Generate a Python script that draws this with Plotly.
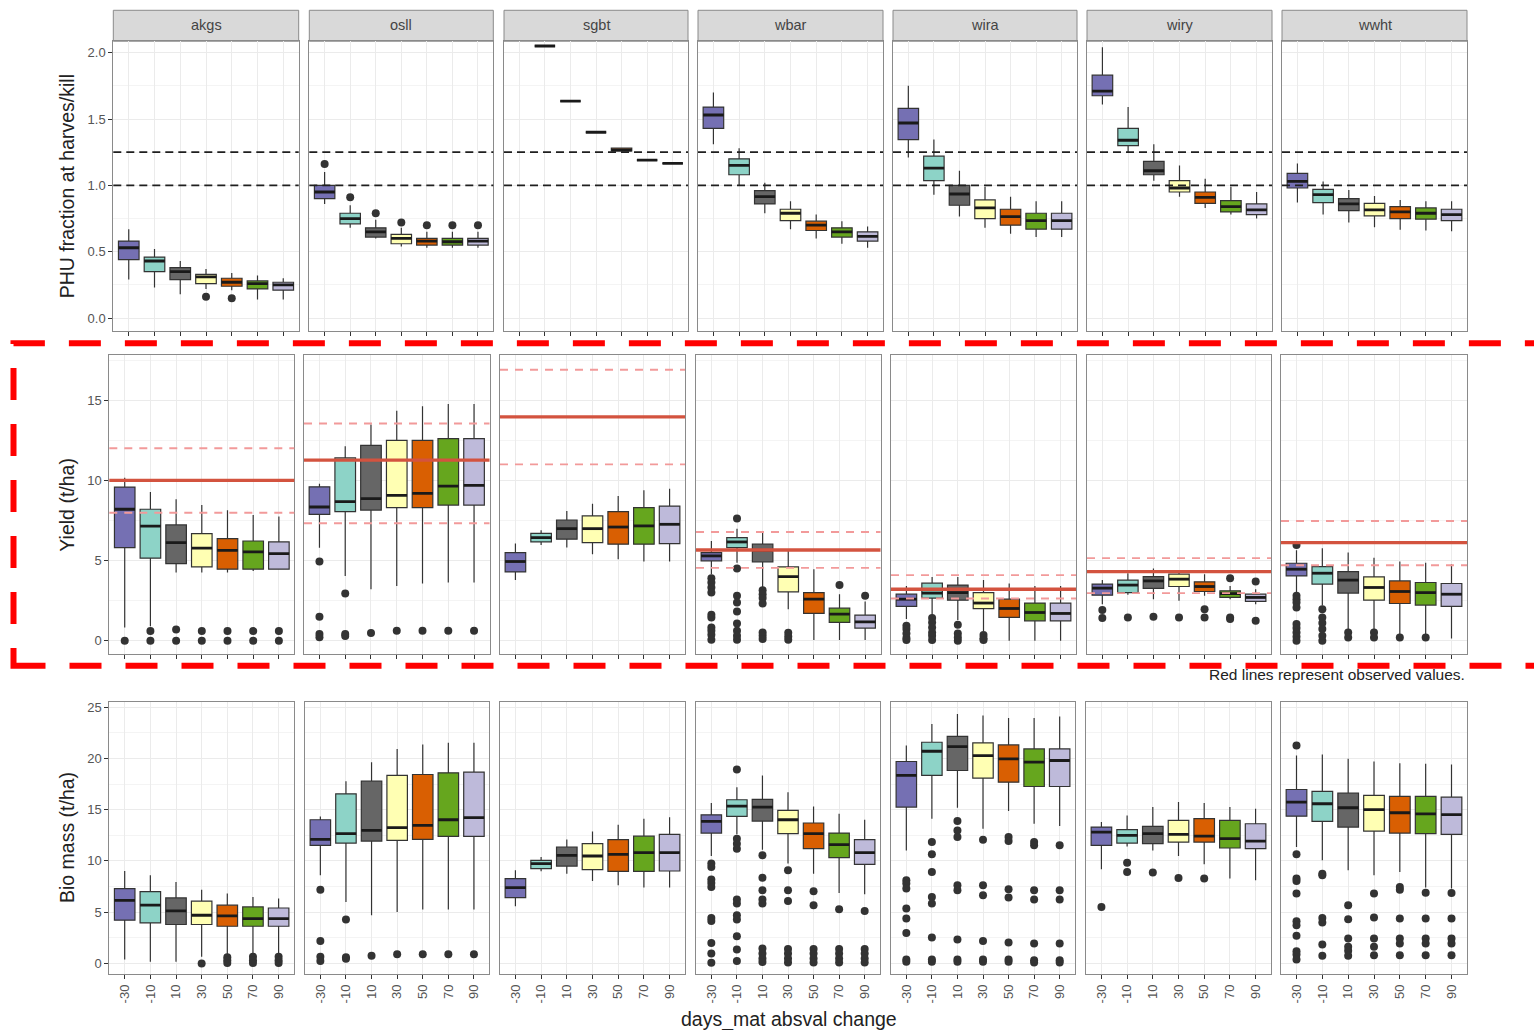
import plotly.graph_objects as go

W, H = 1534, 1030

crops = ["akgs", "osll", "sgbt", "wbar", "wira", "wiry", "wwht"]
changes = ["-30", "-10", "10", "30", "50", "70", "90"]
change_colors = ["#7570B3", "#8DD3C7", "#666666", "#FFFFB3", "#D95F02", "#66A61E", "#BEBADA"]

# Box statistics per change level: [lower whisker, q1, median, q3, upper whisker]
# ---- PHU fraction at harvest/kill ----
phu_akgs = [[0.29, 0.44, 0.53, 0.58, 0.67], [0.23, 0.35, 0.43, 0.46, 0.52], [0.18, 0.29, 0.35, 0.38, 0.43],
            [0.22, 0.26, 0.31, 0.33, 0.37], [0.21, 0.24, 0.27, 0.30, 0.34], [0.14, 0.22, 0.26, 0.28, 0.32],
            [0.14, 0.21, 0.25, 0.27, 0.30]]
phu_akgs_out = [[], [], [], [0.16], [0.15], [], []]
phu_osll = [[0.86, 0.90, 0.95, 1.00, 1.10], [0.68, 0.71, 0.75, 0.79, 0.85], [0.60, 0.61, 0.65, 0.68, 0.74],
            [0.54, 0.56, 0.60, 0.63, 0.68], [0.53, 0.55, 0.58, 0.60, 0.65], [0.53, 0.55, 0.575, 0.60, 0.65],
            [0.53, 0.55, 0.58, 0.60, 0.65]]
phu_osll_out = [[1.16], [0.91], [0.79], [0.72], [0.70], [0.70], [0.70]]
phu_sgbt = [None, [2.05, 2.05, 2.05, 2.05, 2.05], [1.635, 1.635, 1.635, 1.635, 1.635],
            [1.40, 1.40, 1.40, 1.40, 1.40], [1.26, 1.26, 1.265, 1.28, 1.28], [1.19, 1.19, 1.19, 1.19, 1.19],
            [1.165, 1.165, 1.165, 1.165, 1.165]]
phu_sgbt_out = [[], [], [], [], [], [], []]
phu_wbar = [[1.31, 1.43, 1.53, 1.59, 1.70], [1.00, 1.08, 1.15, 1.20, 1.28], [0.79, 0.86, 0.915, 0.96, 1.02],
            [0.67, 0.735, 0.79, 0.82, 0.88], [0.60, 0.66, 0.70, 0.73, 0.78], [0.56, 0.61, 0.65, 0.68, 0.73],
            [0.53, 0.58, 0.615, 0.65, 0.69]]
phu_wbar_out = [[], [], [], [], [], [], []]
phu_wira = [[1.21, 1.345, 1.47, 1.58, 1.75], [0.93, 1.035, 1.13, 1.22, 1.345], [0.765, 0.85, 0.935, 1.0, 1.11],
            [0.68, 0.75, 0.83, 0.89, 0.99], [0.635, 0.70, 0.765, 0.82, 0.915], [0.61, 0.67, 0.735, 0.79, 0.88],
            [0.61, 0.67, 0.735, 0.79, 0.88]]
phu_wira_out = [[], [], [], [], [], [], []]
phu_wiry = [[1.61, 1.675, 1.71, 1.83, 2.04], [1.25, 1.30, 1.34, 1.43, 1.59], [1.035, 1.08, 1.11, 1.18, 1.31],
            [0.915, 0.95, 0.98, 1.035, 1.15], [0.83, 0.865, 0.91, 0.95, 1.05], [0.78, 0.80, 0.84, 0.885, 0.99],
            [0.75, 0.78, 0.815, 0.86, 0.95]]
phu_wiry_out = [[], [], [], [], [], [], []]
phu_wwht = [[0.87, 0.98, 1.03, 1.09, 1.165], [0.78, 0.87, 0.93, 0.97, 1.03], [0.72, 0.81, 0.86, 0.90, 0.965],
            [0.685, 0.77, 0.815, 0.865, 0.92], [0.665, 0.75, 0.80, 0.84, 0.89], [0.66, 0.745, 0.79, 0.83, 0.88],
            [0.655, 0.735, 0.78, 0.82, 0.88]]
phu_wwht_out = [[], [], [], [], [], [], []]

# ---- Yield (t/ha) ----
yld_akgs = [[0.83, 5.81, 8.2, 9.58, 10.16], [0.9, 5.15, 7.15, 8.2, 9.27], [4.25, 4.81, 6.12, 7.22, 8.82],
            [4.25, 4.6, 5.77, 6.68, 8.46], [4.25, 4.46, 5.64, 6.37, 8.13], [4.35, 4.46, 5.54, 6.22, 7.84],
            [4.46, 4.46, 5.43, 6.16, 7.74]]
yld_akgs_out = [[0.0], [0.6, 0.0], [0.7, 0.0], [0.6, 0.0], [0.6, 0.0], [0.6, 0.0], [0.6, 0.0]]
yld_osll = [[5.8, 7.88, 8.34, 9.6, 9.79], [4.04, 8.05, 8.67, 11.4, 12.13], [3.21, 8.15, 8.86, 12.18, 13.48],
            [3.42, 8.3, 9.07, 12.5, 14.35], [3.57, 8.3, 9.19, 12.5, 14.62], [3.63, 8.46, 9.64, 12.6, 14.77],
            [3.63, 8.46, 9.69, 12.6, 14.77]]
yld_osll_out = [[4.94, 1.5, 0.42, 0.21], [2.95, 0.42, 0.3], [0.48], [0.62], [0.62], [0.62], [0.62]]
yld_sgbt = [[3.78, 4.29, 4.94, 5.5, 6.06], [5.97, 6.16, 6.43, 6.7, 6.89], [5.81, 6.33, 6.99, 7.53, 8.09],
            [5.39, 6.12, 6.99, 7.78, 8.54], [5.08, 6.02, 7.09, 8.05, 9.02], [4.94, 6.02, 7.16, 8.3, 9.38],
            [4.94, 6.06, 7.26, 8.4, 9.48]]
yld_sgbt_out = [[], [], [], [], [], [], []]
yld_wbar = [[4.15, 4.98, 5.29, 5.5, 6.22], [4.87, 5.8, 6.16, 6.43, 6.99], [3.35, 4.92, 5.64, 6.02, 6.78],
            [1.97, 3.05, 4.0, 4.6, 5.7], [0.04, 1.7, 2.59, 3.0, 4.46], [0.04, 1.14, 1.66, 2.03, 2.9],
            [0.04, 0.79, 1.18, 1.6, 2.45]]
yld_wbar_out = [[3.9, 3.63, 3.32, 3.0, 1.62, 1.45, 0.83, 0.62, 0.37, 0.06],
                [7.63, 4.5, 2.8, 2.38, 1.83, 1.08, 0.62, 0.31, 0.06],
                [3.15, 2.9, 2.66, 2.32, 0.52, 0.31, 0.1], [0.5, 0.27, 0.06], [], [3.47], [2.8]]
yld_wira = [[1.35, 2.14, 2.59, 2.9, 3.42], [1.6, 2.66, 2.97, 3.59, 3.98], [1.3, 2.53, 3.0, 3.47, 3.98],
            [0.6, 2.0, 2.35, 3.0, 3.78], [0.0, 1.45, 2.01, 2.59, 3.57], [0.0, 1.24, 1.76, 2.35, 3.42],
            [0.0, 1.24, 1.7, 2.35, 3.42]]
yld_wira_out = [[0.93, 0.73, 0.45, 0.17, 0.04], [1.41, 1.14, 0.83, 0.52, 0.31, 0.04], [1.0, 0.45, 0.2, 0.0],
                [0.35, 0.15, 0.05], [], [], []]
yld_wiry = [[2.28, 2.84, 3.28, 3.53, 3.78], [2.86, 3.0, 3.47, 3.78, 4.21], [2.59, 3.26, 3.73, 4.0, 4.5],
            [2.49, 3.38, 3.84, 4.15, 4.4], [2.8, 3.07, 3.38, 3.67, 4.15], [2.59, 2.7, 2.94, 3.11, 3.42],
            [2.28, 2.45, 2.7, 2.9, 3.21]]
yld_wiry_out = [[1.91, 1.41], [1.45], [1.49], [1.45], [1.97, 1.45], [3.9, 1.45, 1.35], [3.69, 1.24]]
yld_wwht = [[3.0, 4.04, 4.46, 4.83, 5.64], [2.2, 3.53, 4.21, 4.62, 5.77], [0.73, 2.97, 3.78, 4.31, 5.5],
            [0.73, 2.53, 3.32, 3.98, 5.18], [0.35, 2.32, 3.07, 3.73, 4.94], [0.35, 2.22, 3.0, 3.63, 4.87],
            [0.14, 2.14, 2.9, 3.57, 4.77]]
yld_wwht_out = [[5.97, 2.8, 2.59, 2.38, 2.07, 1.04, 0.79, 0.52, 0.25, 0.0], [1.97, 1.45, 1.1, 0.73, 0.31, 0.0],
                [0.52, 0.2], [0.52, 0.2], [0.2], [0.2], []]

# Observed yield per crop (t/ha): central value and band
obs_yield = [10.0, 11.26, 13.96, 5.66, 3.21, 4.31, 6.12]
obs_yield_hi = [12.0, 13.55, 16.9, 6.78, 4.09, 5.15, 7.47]
obs_yield_lo = [7.98, 7.33, 11.0, 4.54, 2.63, 2.97, 4.71]

# ---- Bio mass (t/ha) ----
bio_akgs = [[0.39, 4.22, 6.16, 7.3, 9.02], [0.16, 3.95, 5.68, 7.01, 8.6], [0.16, 3.8, 5.12, 6.39, 7.95],
            [0.65, 3.8, 4.7, 6.07, 7.2], [0.8, 3.63, 4.64, 5.68, 6.82], [0.8, 3.63, 4.38, 5.51, 6.49],
            [0.8, 3.63, 4.38, 5.41, 6.33]]
bio_akgs_out = [[], [], [], [0.0], [0.6, 0.3, 0.05], [0.65, 0.3, 0.05], [0.65, 0.3, 0.05]]
bio_osll = [[8.6, 11.52, 12.1, 14.02, 14.34], [6.0, 11.74, 12.66, 16.55, 17.78], [4.7, 11.94, 12.98, 17.78, 19.63],
            [5.02, 12.0, 13.24, 18.34, 20.93], [5.26, 12.1, 13.46, 18.43, 21.35], [5.26, 12.4, 14.02, 18.6, 21.52],
            [5.26, 12.4, 14.22, 18.66, 21.52]]
bio_osll_out = [[7.2, 2.2, 0.65, 0.25], [4.28, 0.6, 0.45], [0.74], [0.9], [0.9], [0.9], [0.9]]
bio_sgbt = [[5.58, 6.43, 7.4, 8.28, 9.08], [8.99, 9.25, 9.74, 10.06, 10.38], [8.76, 9.5, 10.55, 11.36, 12.1],
            [8.04, 9.15, 10.48, 11.68, 12.88], [7.62, 8.99, 10.64, 12.07, 13.53], [7.4, 8.99, 10.81, 12.42, 14.12],
            [7.4, 9.02, 10.81, 12.59, 14.27]]
bio_sgbt_out = [[], [], [], [], [], [], []]
bio_wbar = [[10.48, 12.72, 13.86, 14.5, 15.64], [12.6, 14.34, 15.35, 15.97, 17.2], [11.1, 13.89, 15.25, 16.0, 18.34],
            [9.74, 12.66, 14.02, 14.93, 16.71], [8.76, 11.2, 12.66, 13.7, 15.32], [6.88, 10.32, 11.59, 12.72, 14.6],
            [6.75, 9.67, 10.81, 12.07, 14.02]]
bio_wbar_out = [[9.74, 9.4, 8.18, 7.85, 7.46, 4.44, 4.15, 2.0, 0.97, 0.06],
                [18.92, 12.17, 11.68, 11.2, 6.23, 5.84, 4.7, 4.28, 2.66, 1.36, 0.25],
                [10.55, 8.37, 7.14, 6.23, 5.84, 1.46, 0.97, 0.49, 0.15],
                [9.08, 7.14, 6.1, 1.4, 0.97, 0.49, 0.1], [7.04, 5.68, 1.4, 0.97, 0.49, 0.1],
                [5.29, 1.4, 0.97, 0.49, 0.1], [5.12, 1.4, 0.97, 0.49, 0.1]]
bio_wira = [[11.03, 15.25, 18.34, 19.7, 21.26], [14.12, 18.34, 20.7, 21.58, 23.37], [15.19, 18.82, 21.16, 22.16, 24.34],
            [13.15, 18.07, 20.28, 21.52, 24.18], [14.86, 17.68, 19.96, 21.32, 23.95], [13.63, 17.26, 19.63, 20.93, 23.95],
            [13.4, 17.26, 19.8, 20.93, 24.08]]
bio_wira_out = [[8.11, 7.79, 7.3, 5.35, 4.38, 2.98, 0.39, 0.16], [11.84, 10.64, 8.92, 6.49, 5.84, 2.53, 0.39, 0.16],
                [13.89, 12.98, 12.33, 7.62, 7.14, 2.34, 0.39, 0.16], [12.07, 7.62, 6.65, 2.2, 0.39, 0.16],
                [12.33, 11.94, 7.23, 6.43, 2.04, 0.39, 0.16], [11.84, 11.52, 7.14, 6.23, 1.95, 0.3, 0.1],
                [11.52, 7.14, 6.23, 1.95, 0.3, 0.1]]
bio_wiry = [[9.18, 11.52, 12.82, 13.3, 13.79], [11.42, 11.74, 12.49, 13.05, 14.44], [11.03, 11.68, 12.66, 13.37, 15.25],
            [10.48, 11.84, 12.59, 13.95, 15.74], [9.67, 11.84, 12.43, 14.12, 15.64], [8.28, 11.26, 12.17, 13.95, 15.25],
            [8.11, 11.2, 11.94, 13.63, 15.09]]
bio_wiry_out = [[5.51], [9.83, 8.92], [8.86], [8.34], [8.28], [], []]
bio_wwht = [[11.36, 14.37, 15.74, 16.97, 20.28], [10.06, 13.86, 15.58, 16.78, 20.38], [9.08, 13.3, 15.19, 16.61, 19.96],
            [8.6, 12.91, 15.0, 16.39, 19.7], [8.92, 12.72, 14.7, 16.29, 19.54], [7.4, 12.66, 14.6, 16.29, 19.47],
            [7.3, 12.59, 14.51, 16.22, 19.41]]
bio_wwht_out = [[21.26, 10.64, 8.28, 8.04, 6.82, 4.12, 3.73, 2.69, 1.2, 0.88, 0.39],
                [8.76, 8.6, 4.44, 3.99, 1.85, 0.74], [5.68, 4.31, 2.43, 1.62, 1.23, 0.74],
                [6.82, 4.48, 2.43, 1.62, 0.8], [7.46, 7.2, 4.38, 2.43, 1.95, 0.8],
                [6.9, 4.38, 2.43, 1.95, 0.8], [6.88, 4.38, 2.43, 1.95, 0.8]]

phu_ticks = [0.0, 0.5, 1.0, 1.5, 2.0]
yield_ticks = [0, 5, 10, 15]
bio_ticks = [0, 5, 10, 15, 20, 25]
phu_ref_lines = [1.0, 1.25]

# Panel geometry in pixels: (left, right) per facet column, (top, bottom) per row
col_px = [
    [(113.3, 298.7), (309.3, 493.3), (504, 688), (698, 883), (893, 1077), (1087, 1272), (1282, 1467)],
    [(109.3, 294.3), (304, 489.5), (500, 685), (696, 880.5), (891, 1076), (1087, 1271), (1281, 1467)],
    [(109.3, 294), (305, 489.3), (500, 685), (696, 880), (891, 1075), (1086, 1271), (1281, 1467)],
]
row_px = [(39.3, 330), (354, 653.3), (701, 974.3)]

rows = [
    dict(stats=[phu_akgs, phu_osll, phu_sgbt, phu_wbar, phu_wira, phu_wiry, phu_wwht],
         outs=[phu_akgs_out, phu_osll_out, phu_sgbt_out, phu_wbar_out, phu_wira_out, phu_wiry_out, phu_wwht_out],
         yrange=[-0.1, 2.086], ticks=phu_ticks, ticktext=["%.1f" % t for t in phu_ticks],
         minor=[0.25, 0.75, 1.25, 1.75], title="PHU fraction at harves/kill"),
    dict(stats=[yld_akgs, yld_osll, yld_sgbt, yld_wbar, yld_wira, yld_wiry, yld_wwht],
         outs=[yld_akgs_out, yld_osll_out, yld_sgbt_out, yld_wbar_out, yld_wira_out, yld_wiry_out, yld_wwht_out],
         yrange=[-0.83, 17.8], ticks=yield_ticks, ticktext=[str(t) for t in yield_ticks],
         minor=[2.5, 7.5, 12.5, 17.5], title="Yield (t/ha)"),
    dict(stats=[bio_akgs, bio_osll, bio_sgbt, bio_wbar, bio_wira, bio_wiry, bio_wwht],
         outs=[bio_akgs_out, bio_osll_out, bio_sgbt_out, bio_wbar_out, bio_wira_out, bio_wiry_out, bio_wwht_out],
         yrange=[-1.07, 25.54], ticks=bio_ticks, ticktext=[str(t) for t in bio_ticks],
         minor=[2.5, 7.5, 12.5, 17.5, 22.5], title="Bio mass (t/ha)"),
]

FONT = "Liberation Sans, Arial, sans-serif"
BOX_W = 0.8
TICK_FONT = dict(size=13, color="#555555", family=FONT)

fig = go.Figure()
layout_axes = {}
shapes = []
annotations = []


def px2x(v):
    return v / W


def px2y(v):
    return 1 - v / H


for r, row in enumerate(rows):
    for c in range(len(crops)):
        n = r * 7 + c + 1
        suffix = "" if n == 1 else str(n)
        xa, ya = "x" + suffix, "y" + suffix
        xkey, ykey = "xaxis" + suffix, "yaxis" + suffix
        x0, x1 = col_px[r][c]
        y0, y1 = row_px[r]

        layout_axes[xkey] = dict(
            domain=[px2x(x0), px2x(x1)], range=[0.4, 7.6], anchor=ya,
            tickvals=list(range(1, 8)), ticktext=changes, tickangle=-90,
            showticklabels=(r == 2), ticks="outside", ticklen=4, tickcolor="#333333", tickwidth=1,
            tickfont=TICK_FONT,
            showgrid=True, gridcolor="#EBEBEB", gridwidth=1, zeroline=False,
            showline=True, mirror=True, linecolor="#8A8A8A", linewidth=1, fixedrange=True)
        layout_axes[ykey] = dict(
            domain=[px2y(y1), px2y(y0)], range=row["yrange"], anchor=xa,
            tickvals=row["ticks"], ticktext=row["ticktext"],
            showticklabels=(c == 0), ticks=("outside" if c == 0 else ""), ticklen=4,
            tickcolor="#333333", tickwidth=1,
            tickfont=TICK_FONT,
            showgrid=True, gridcolor="#EBEBEB", gridwidth=1, zeroline=False,
            minor=dict(tickvals=row["minor"], showgrid=True, gridcolor="#F4F4F4", gridwidth=1, ticks=""),
            showline=True, mirror=True, linecolor="#8A8A8A", linewidth=1, fixedrange=True)

        stats = row["stats"][c]
        outs = row["outs"][c]

        # boxes, one per change level
        for k, s in enumerate(stats):
            if s is None:
                continue
            fig.add_trace(go.Box(
                x=[k + 1], lowerfence=[s[0]], q1=[s[1]], median=[s[2]], q3=[s[3]], upperfence=[s[4]],
                width=BOX_W, fillcolor=change_colors[k], line=dict(color="#333333", width=1.2),
                whiskerwidth=0, boxpoints=False, xaxis=xa, yaxis=ya,
                showlegend=False, hoverinfo="skip"))

        # thicker median bars
        mx, my = [], []
        for k, s in enumerate(stats):
            if s is None:
                continue
            mx += [k + 1 - BOX_W / 2, k + 1 + BOX_W / 2, None]
            my += [s[2], s[2], None]
        fig.add_trace(go.Scatter(x=mx, y=my, mode="lines", line=dict(color="#1A1A1A", width=2.8),
                                 xaxis=xa, yaxis=ya, showlegend=False, hoverinfo="skip"))

        # outliers
        ox, oy = [], []
        for k, pts in enumerate(outs):
            ox += [k + 1] * len(pts)
            oy += pts
        if ox:
            fig.add_trace(go.Scatter(x=ox, y=oy, mode="markers",
                                     marker=dict(color="#333333", size=8, line=dict(width=0)),
                                     xaxis=xa, yaxis=ya, showlegend=False, hoverinfo="skip"))

        # reference lines
        if r == 0:
            for v in phu_ref_lines:
                shapes.append(dict(type="line", xref=f"{xa} domain", yref=ya, x0=0, x1=1, y0=v, y1=v,
                                   line=dict(color="#1F1F1F", width=1.7, dash="8px,5px"), layer="above"))
        if r == 1:
            for v in (obs_yield_hi[c], obs_yield_lo[c]):
                shapes.append(dict(type="line", xref=f"{xa} domain", yref=ya, x0=0, x1=1, y0=v, y1=v,
                                   line=dict(color="#F29A9A", width=1.9, dash="8px,7px"), layer="above"))
            shapes.append(dict(type="line", xref=f"{xa} domain", yref=ya, x0=0, x1=1,
                               y0=obs_yield[c], y1=obs_yield[c],
                               line=dict(color="#D3533F", width=3.4), layer="above"))

        # facet strips on the top row
        if r == 0:
            shapes.append(dict(type="rect", xref="paper", yref="paper",
                               x0=px2x(x0), x1=px2x(x1), y0=px2y(39.3), y1=px2y(8.3),
                               fillcolor="#D9D9D9", line=dict(color="#8A8A8A", width=1), layer="below"))
            annotations.append(dict(text=crops[c], xref="paper", yref="paper",
                                    x=px2x((x0 + x1) / 2), y=px2y(23.5), showarrow=False,
                                    xanchor="center", yanchor="middle",
                                    font=dict(size=14.5, color="#444444", family=FONT)))

    # row title
    yt0, yt1 = row_px[r]
    annotations.append(dict(text=row["title"], xref="paper", yref="paper", x=px2x(67),
                            y=px2y((yt0 + yt1) / 2), textangle=-90, showarrow=False,
                            xanchor="center", yanchor="middle",
                            font=dict(size=19.5, color="#222222", family=FONT)))

# x axis title
annotations.append(dict(text="days_mat absval change", xref="paper", yref="paper",
                        x=px2x(788.5), y=px2y(1019), showarrow=False, xanchor="center", yanchor="middle",
                        font=dict(size=19.5, color="#222222", family=FONT)))
# caption for the yield row
annotations.append(dict(text="Red lines represent observed values.", xref="paper", yref="paper",
                        x=px2x(1467), y=px2y(674), showarrow=False, xanchor="right", yanchor="middle",
                        font=dict(size=15.5, color="#222222", family=FONT)))

# highlight frame around the yield row
shapes.append(dict(type="rect", xref="paper", yref="paper",
                   x0=px2x(13.5), x1=px2x(1548), y0=px2y(665), y1=px2y(342),
                   line=dict(color="#FF0000", width=6, dash="32px,24px"), layer="above"))

fig.update_layout(
    width=W, height=H, margin=dict(l=0, r=0, t=0, b=0),
    paper_bgcolor="white", plot_bgcolor="white",
    boxmode="overlay", showlegend=False,
    font=dict(family=FONT),
    shapes=shapes, annotations=annotations,
    **layout_axes,
)

fig.write_html("out.html")
